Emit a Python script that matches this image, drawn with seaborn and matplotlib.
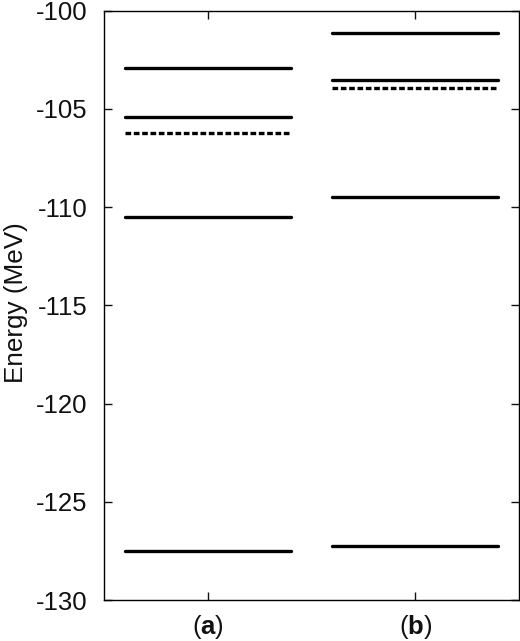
import matplotlib
matplotlib.use("Agg")
import matplotlib.pyplot as plt
import seaborn as sns
import pandas as pd

# Data
categories = ["a", "b"]
levels_a = [-102.9, -105.4, -110.5, -127.5]
dashed_a = [-106.25]
levels_b = [-101.15, -103.55, -109.5, -127.25]
dashed_b = [-103.95]
y_ticks = [-130, -125, -120, -115, -110, -105, -100]

half_width = 0.4

rows = []
uid = 0
for ci, (cat, solid, dashed) in enumerate(zip(categories, [levels_a, levels_b], [dashed_a, dashed_b])):
    center = ci + 1
    for kind, vals in (("solid", solid), ("dashed", dashed)):
        for e in vals:
            for x in (center - half_width, center + half_width):
                rows.append({"x": x, "energy": e, "unit": uid, "kind": kind})
            uid += 1
df = pd.DataFrame(rows)

sns.set_theme(style="ticks")
plt.rcParams["font.family"] = ["Liberation Sans", "DejaVu Sans"]
plt.rcParams["mathtext.fontset"] = "custom"
plt.rcParams["mathtext.bf"] = "Liberation Sans:bold"
plt.rcParams["mathtext.rm"] = "Liberation Sans"

fig = plt.figure(figsize=(5.2, 6.41), dpi=100)
ax = fig.add_axes([104/520, 1 - 600/641, (519-104)/520, (600-10.7)/641])

sns.lineplot(data=df, x="x", y="energy", units="unit", estimator=None,
             style="kind", dashes={"solid": "", "dashed": (1.7, 0.8)},
             color="black", linewidth=2.4, legend=False, ax=ax, sort=False)

ax.set_xlim(0.5, 2.5)
ax.set_ylim(-130, -100)
ax.set_xticks([1, 2])
ax.set_xticklabels([r"($\mathbf{%s}$)" % c for c in categories])
ax.set_yticks(y_ticks)
ax.set_yticklabels([str(t) for t in y_ticks])
ax.set_xlabel("")
ax.set_ylabel("Energy (MeV)", fontsize=18.8, color="#111111")
ax.yaxis.set_label_coords(-0.183, 0.504)
ax.tick_params(direction="in", top=True, right=True, length=6, width=1,
               labelsize=18.5, colors="#111111")
ax.tick_params(axis="y", pad=12)
ax.tick_params(axis="x", pad=9.5)
for s in ax.spines.values():
    s.set_visible(True)
    s.set_linewidth(1.0)
    s.set_color("black")

fig.savefig("out.png", dpi=100)
